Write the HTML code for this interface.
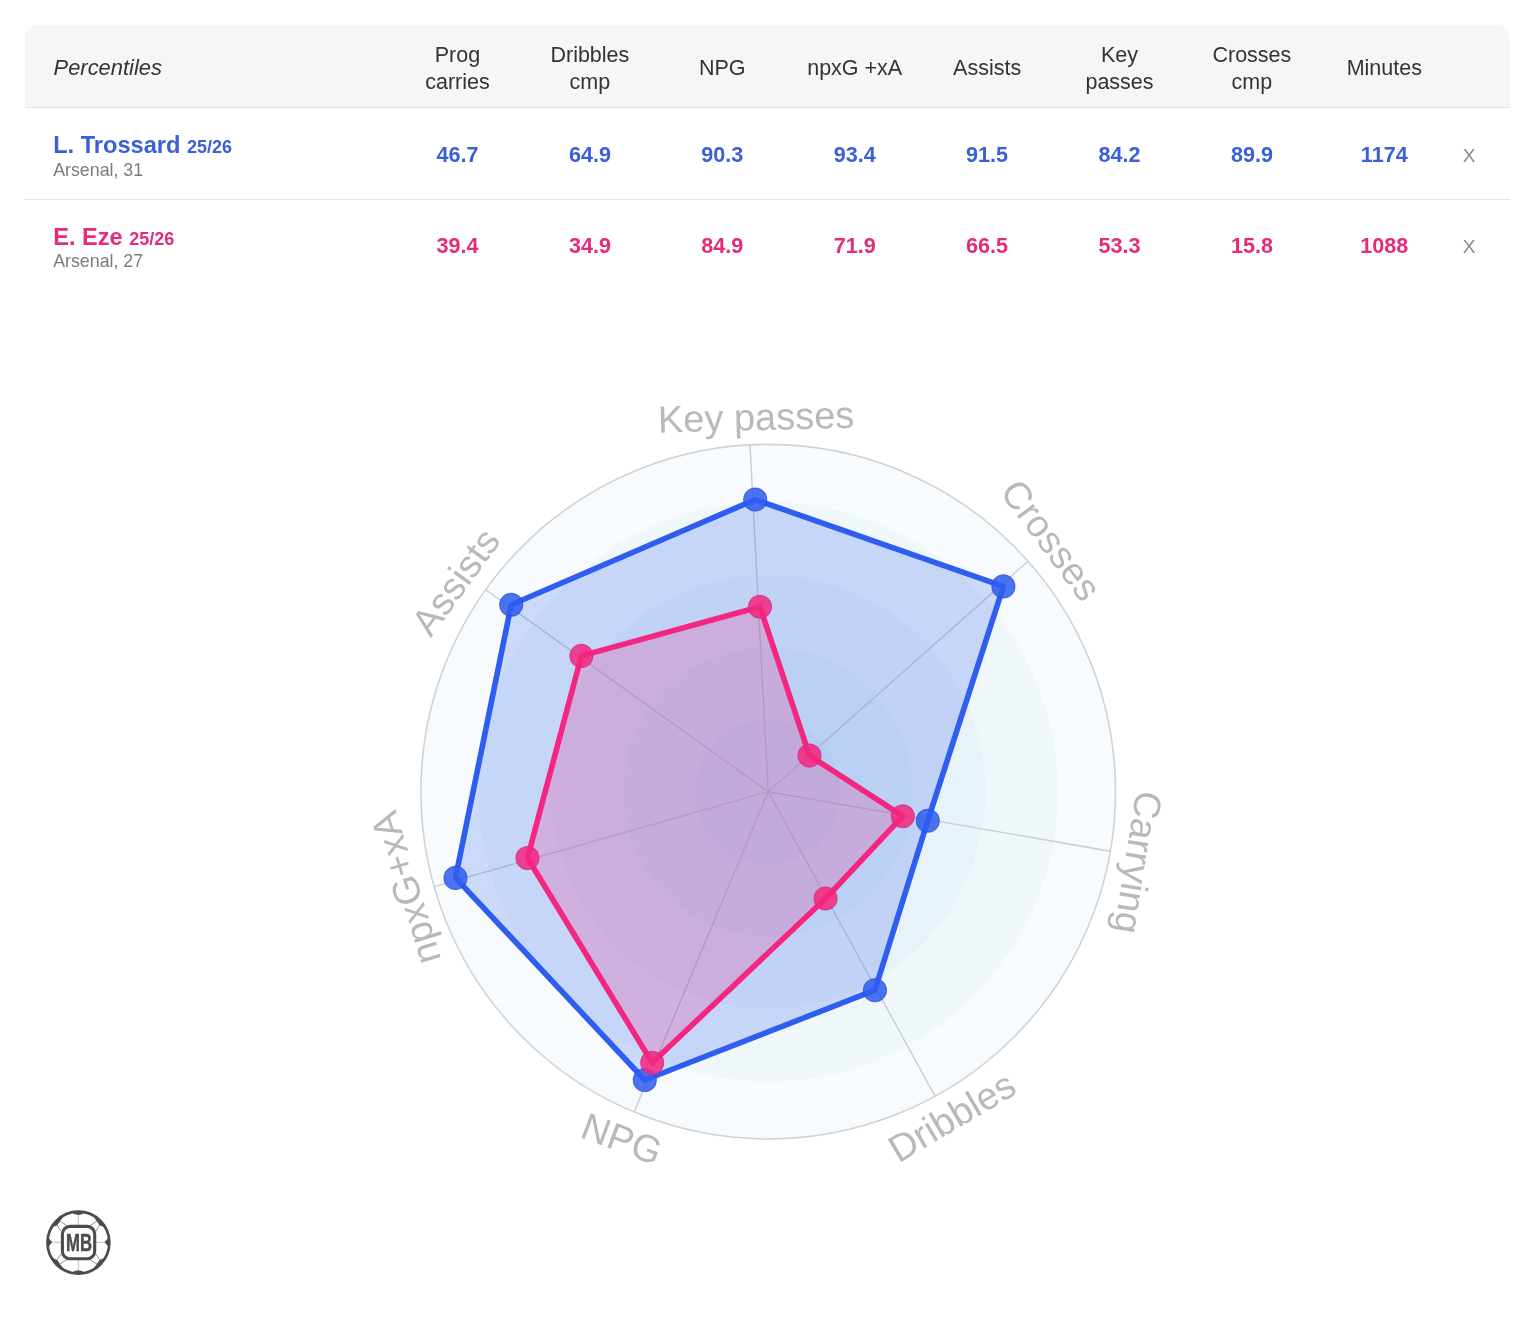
<!DOCTYPE html>
<html lang="en">
<head>
<meta charset="utf-8">
<title>Percentiles radar</title>
<style>
html,body{margin:0;padding:0;background:#fff;}
body{width:1536px;height:1344px;position:relative;overflow:hidden;font-family:"Liberation Sans",sans-serif;color:#333;}
.hdrbg{position:absolute;left:25px;top:25px;width:1485px;height:82px;background:#f6f6f6;border-radius:13px 13px 0 0;border-bottom:1px solid #e2e2e2;}
.ln{position:absolute;left:25px;width:1485px;height:1px;background:#e6e6e6;}
.a{position:absolute;white-space:nowrap;}
.c{text-align:center;}
.b{font-weight:bold;}
.it{font-style:italic;}
.dk{color:#333;}
.gr{color:#7b7b7b;}
.xg{color:#8a8a8a;}
.blue{color:#3960d9;}
.pink{color:#e52b7c;}
.ss{font-size:18px;line-height:1px;}
.radar{position:absolute;left:0;top:0;}
.lab{font-family:"Liberation Sans",sans-serif;font-size:38px;fill:#b9b9b9;}
.logo{position:absolute;left:0;top:0;}
</style>
</head>
<body>
<div class="hdrbg"></div><div class="ln" style="top:198.5px"></div>
<div class="a it dk" style="left:53.6px;top:54.80px;font-size:21.9px;line-height:26px">Percentiles</div>
<div class="a c dk" style="left:367.5px;top:41.83px;width:180px;font-size:21.5px;line-height:26.75px">Prog<br>carries</div>
<div class="a c dk" style="left:499.9px;top:41.83px;width:180px;font-size:21.5px;line-height:26.75px">Dribbles<br>cmp</div>
<div class="a c dk" style="left:632.3px;top:54.53px;width:180px;font-size:21.5px;line-height:26.75px">NPG</div>
<div class="a c dk" style="left:764.7px;top:54.53px;width:180px;font-size:21.5px;line-height:26.75px">npxG +xA</div>
<div class="a c dk" style="left:897.1px;top:54.53px;width:180px;font-size:21.5px;line-height:26.75px">Assists</div>
<div class="a c dk" style="left:1029.5px;top:41.83px;width:180px;font-size:21.5px;line-height:26.75px">Key<br>passes</div>
<div class="a c dk" style="left:1161.9px;top:41.83px;width:180px;font-size:21.5px;line-height:26.75px">Crosses<br>cmp</div>
<div class="a c dk" style="left:1294.3px;top:54.53px;width:180px;font-size:21.5px;line-height:26.75px">Minutes</div>
<div class="a b blue" style="left:53.2px;top:131.10px;font-size:23.6px;line-height:28px">L. Trossard <span class="ss">25/26</span></div>
<div class="a gr" style="left:53.2px;top:159.80px;font-size:17.8px;line-height:20px">Arsenal, 31</div>
<div class="a c b blue" style="left:367.5px;top:142.00px;width:180px;font-size:21.6px;line-height:26px">46.7</div>
<div class="a c b blue" style="left:499.9px;top:142.00px;width:180px;font-size:21.6px;line-height:26px">64.9</div>
<div class="a c b blue" style="left:632.3px;top:142.00px;width:180px;font-size:21.6px;line-height:26px">90.3</div>
<div class="a c b blue" style="left:764.7px;top:142.00px;width:180px;font-size:21.6px;line-height:26px">93.4</div>
<div class="a c b blue" style="left:897.1px;top:142.00px;width:180px;font-size:21.6px;line-height:26px">91.5</div>
<div class="a c b blue" style="left:1029.5px;top:142.00px;width:180px;font-size:21.6px;line-height:26px">84.2</div>
<div class="a c b blue" style="left:1161.9px;top:142.00px;width:180px;font-size:21.6px;line-height:26px">89.9</div>
<div class="a c b blue" style="left:1294.3px;top:142.00px;width:180px;font-size:21.6px;line-height:26px">1174</div>
<div class="a c xg" style="left:1449.0px;top:143.00px;width:40px;font-size:19.1px;line-height:26px">X</div>
<div class="a b pink" style="left:53.2px;top:222.90px;font-size:23.6px;line-height:28px">E. Eze <span class="ss">25/26</span></div>
<div class="a gr" style="left:53.2px;top:250.50px;font-size:17.8px;line-height:20px">Arsenal, 27</div>
<div class="a c b pink" style="left:367.5px;top:233.30px;width:180px;font-size:21.6px;line-height:26px">39.4</div>
<div class="a c b pink" style="left:499.9px;top:233.30px;width:180px;font-size:21.6px;line-height:26px">34.9</div>
<div class="a c b pink" style="left:632.3px;top:233.30px;width:180px;font-size:21.6px;line-height:26px">84.9</div>
<div class="a c b pink" style="left:764.7px;top:233.30px;width:180px;font-size:21.6px;line-height:26px">71.9</div>
<div class="a c b pink" style="left:897.1px;top:233.30px;width:180px;font-size:21.6px;line-height:26px">66.5</div>
<div class="a c b pink" style="left:1029.5px;top:233.30px;width:180px;font-size:21.6px;line-height:26px">53.3</div>
<div class="a c b pink" style="left:1161.9px;top:233.30px;width:180px;font-size:21.6px;line-height:26px">15.8</div>
<div class="a c b pink" style="left:1294.3px;top:233.30px;width:180px;font-size:21.6px;line-height:26px">1088</div>
<div class="a c xg" style="left:1449.0px;top:234.30px;width:40px;font-size:19.1px;line-height:26px">X</div>
<svg class="radar" width="1536" height="1344" viewBox="0 0 1536 1344">
<circle cx="768.2" cy="791.7" r="347.3" fill="#50a0d7" fill-opacity="0.046"/>
<circle cx="768.2" cy="791.7" r="289.6" fill="#50a0d7" fill-opacity="0.046"/>
<circle cx="768.2" cy="791.7" r="217.2" fill="#50a0d7" fill-opacity="0.046"/>
<circle cx="768.2" cy="791.7" r="144.8" fill="#50a0d7" fill-opacity="0.046"/>
<circle cx="768.2" cy="791.7" r="72.4" fill="#50a0d7" fill-opacity="0.046"/>
<circle cx="768.2" cy="791.7" r="347.3" fill="none" stroke="#d0d3d6" stroke-width="1.6"/>
<line x1="768.2" y1="791.7" x2="750.0" y2="444.9" stroke="#c9ccd0" stroke-width="1.4"/>
<line x1="768.2" y1="791.7" x2="1028.0" y2="561.2" stroke="#c9ccd0" stroke-width="1.4"/>
<line x1="768.2" y1="791.7" x2="1110.4" y2="851.2" stroke="#c9ccd0" stroke-width="1.4"/>
<line x1="768.2" y1="791.7" x2="935.1" y2="1096.3" stroke="#c9ccd0" stroke-width="1.4"/>
<line x1="768.2" y1="791.7" x2="634.1" y2="1112.1" stroke="#c9ccd0" stroke-width="1.4"/>
<line x1="768.2" y1="791.7" x2="434.1" y2="886.6" stroke="#c9ccd0" stroke-width="1.4"/>
<line x1="768.2" y1="791.7" x2="485.7" y2="589.7" stroke="#c9ccd0" stroke-width="1.4"/>
<polygon points="755.2,499.6 1003.4,586.4 927.8,820.7 874.9,990.2 644.8,1080.0 455.5,877.9 511.2,604.8" fill="#2e5df0" fill-opacity="0.21" stroke="#2e5df0" stroke-width="5.6" stroke-linejoin="round"/>
<circle cx="755.2" cy="499.6" r="11.5" fill="#2e5df0" fill-opacity="0.86" stroke="#2a50d4" stroke-opacity="0.8" stroke-width="1.1"/>
<circle cx="1003.4" cy="586.4" r="11.5" fill="#2e5df0" fill-opacity="0.86" stroke="#2a50d4" stroke-opacity="0.8" stroke-width="1.1"/>
<circle cx="927.8" cy="820.7" r="11.5" fill="#2e5df0" fill-opacity="0.86" stroke="#2a50d4" stroke-opacity="0.8" stroke-width="1.1"/>
<circle cx="874.9" cy="990.2" r="11.5" fill="#2e5df0" fill-opacity="0.86" stroke="#2a50d4" stroke-opacity="0.8" stroke-width="1.1"/>
<circle cx="644.8" cy="1080.0" r="11.5" fill="#2e5df0" fill-opacity="0.86" stroke="#2a50d4" stroke-opacity="0.8" stroke-width="1.1"/>
<circle cx="455.5" cy="877.9" r="11.5" fill="#2e5df0" fill-opacity="0.86" stroke="#2a50d4" stroke-opacity="0.8" stroke-width="1.1"/>
<circle cx="511.2" cy="604.8" r="11.5" fill="#2e5df0" fill-opacity="0.86" stroke="#2a50d4" stroke-opacity="0.8" stroke-width="1.1"/>
<polygon points="760.0,606.8 809.5,755.6 902.8,816.2 825.6,898.5 652.2,1062.8 527.5,858.0 581.4,655.9" fill="#f4267f" fill-opacity="0.21" stroke="#f4267f" stroke-width="5.6" stroke-linejoin="round"/>
<circle cx="760.0" cy="606.8" r="11.5" fill="#f4267f" fill-opacity="0.86" stroke="#cf2f80" stroke-opacity="0.8" stroke-width="1.1"/>
<circle cx="809.5" cy="755.6" r="11.5" fill="#f4267f" fill-opacity="0.86" stroke="#cf2f80" stroke-opacity="0.8" stroke-width="1.1"/>
<circle cx="902.8" cy="816.2" r="11.5" fill="#f4267f" fill-opacity="0.86" stroke="#cf2f80" stroke-opacity="0.8" stroke-width="1.1"/>
<circle cx="825.6" cy="898.5" r="11.5" fill="#f4267f" fill-opacity="0.86" stroke="#cf2f80" stroke-opacity="0.8" stroke-width="1.1"/>
<circle cx="652.2" cy="1062.8" r="11.5" fill="#f4267f" fill-opacity="0.86" stroke="#cf2f80" stroke-opacity="0.8" stroke-width="1.1"/>
<circle cx="527.5" cy="858.0" r="11.5" fill="#f4267f" fill-opacity="0.86" stroke="#cf2f80" stroke-opacity="0.8" stroke-width="1.1"/>
<circle cx="581.4" cy="655.9" r="11.5" fill="#f4267f" fill-opacity="0.86" stroke="#cf2f80" stroke-opacity="0.8" stroke-width="1.1"/>
<text class="lab" text-anchor="middle" transform="translate(756.4,430.2) rotate(-1.5)">Key passes</text>
<text class="lab" text-anchor="middle" transform="translate(1040.65,547.86) rotate(53.4)">Crosses</text>
<text class="lab" text-anchor="middle" transform="translate(1125.2,860.45) rotate(99)">Carrying</text>
<text class="lab" text-anchor="middle" transform="translate(958.5,1128.1) rotate(-30.5)">Dribbles</text>
<text class="lab" text-anchor="middle" transform="translate(617.4,1151.2) rotate(20.5)">NPG</text>
<text class="lab" text-anchor="middle" transform="translate(418.3,884.3) rotate(-106.9)">npxG+xA</text>
<text class="lab" text-anchor="middle" transform="translate(466.2,589.6) rotate(-54)">Assists</text>
</svg>
<svg class="logo" width="1536" height="1344" viewBox="0 0 1536 1344">
<g transform="translate(78.4,1242.6)">
<circle r="30.95" fill="#fff" stroke="#4c4c4c" stroke-width="2.7"/>
<line x1="0" y1="-28" x2="0" y2="-17" stroke="#c3c6e8" stroke-width="1.2"/>
<line x1="0" y1="17" x2="0" y2="28" stroke="#c3c6e8" stroke-width="1.2"/>
<line x1="-27" y1="-0.3" x2="-17" y2="-0.3" stroke="#e8b8d2" stroke-width="1.2"/>
<line x1="17" y1="-0.3" x2="27" y2="-0.3" stroke="#e8b8d2" stroke-width="1.2"/>
<polygon points="-6.36,-29.93 -3.60,-28.40 0.00,-27.70 3.60,-28.40 6.36,-29.93 0.00,-31.00" fill="#4c4c4c"/>
<polygon points="6.36,29.93 3.60,28.40 0.00,27.70 -3.60,28.40 -6.36,29.93 -0.00,31.00" fill="#4c4c4c"/>
<polygon points="-30.60,-5.60 -26.20,-0.30 -30.60,5.00" fill="#4c4c4c"/>
<polygon points="30.60,-5.60 26.20,-0.30 30.60,5.00" fill="#4c4c4c"/>
<polygon points="-26.41,-15.25 -21.20,-17.30 -18.45,-21.40 -14.32,-26.93 -21.53,-22.30" fill="#4c4c4c"/>
<polygon points="-26.41,15.25 -21.20,17.30 -18.45,21.40 -14.32,26.93 -21.53,22.30" fill="#4c4c4c"/>
<polygon points="26.41,-15.25 21.20,-17.30 18.45,-21.40 14.32,-26.93 21.53,-22.30" fill="#4c4c4c"/>
<polygon points="26.41,15.25 21.20,17.30 18.45,21.40 14.32,26.93 21.53,22.30" fill="#4c4c4c"/>
<path d="M-18.45,-21.40 L-11.40,-17.00 M-21.20,-17.30 L-17.40,-11.30 M-18.45,21.40 L-11.40,17.00 M-21.20,17.30 L-17.40,11.30 M18.45,-21.40 L11.40,-17.00 M21.20,-17.30 L17.40,-11.30 M18.45,21.40 L11.40,17.00 M21.20,17.30 L17.40,11.30" fill="none" stroke="#666" stroke-width="0.7" stroke-linecap="round"/>
<rect x="-16.0" y="-16.2" width="32.3" height="32.4" rx="7.6" fill="#fff" stroke="#4c4c4c" stroke-width="3.1"/>
<text x="0" y="8.5" text-anchor="middle" font-family="'Liberation Sans',sans-serif" font-weight="bold" font-size="23.6" fill="#4c4c4c" stroke="#4c4c4c" stroke-width="0.45" stroke-linejoin="round" transform="translate(0.6,0) scale(0.71,1)">MB</text>
</g>
</svg>
</body>
</html>
